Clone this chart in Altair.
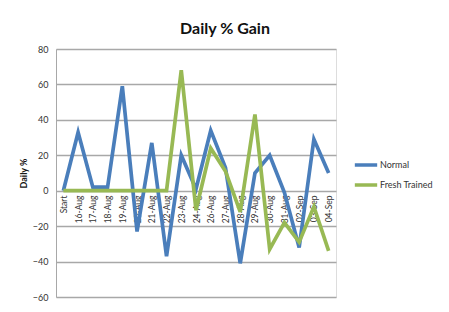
import altair as alt
import pandas as pd

dates = ["Start", "16-Aug", "17-Aug", "18-Aug", "19-Aug", "20-Aug", "21-Aug",
         "22-Aug", "23-Aug", "24-Aug", "26-Aug", "27-Aug", "28-Aug", "29-Aug",
         "30-Aug", "31-Aug", "02-Sep", "03-Sep", "04-Sep"]
normal = [0, 33, 2, 2, 59, -23, 27, -37, 20, 1, 34, 13, -41, 10, 20, -1, -32, 29, 10]
fresh = [0, 0, 0, 0, 0, 0, 0, 0, 68, -11, 24, 11, -12, 43, -33, -18, -29, -9, -34]
series = ["Normal", "Fresh Trained"]
colors = ["#4A7EBB", "#98B954"]

rows = []
for name, vals in zip(series, [normal, fresh]):
    for i, (d, v) in enumerate(zip(dates, vals)):
        rows.append({"date": d, "value": v, "series": name, "order": i})
df = pd.DataFrame(rows)

FONT = "Lato"
W, H = 280, 248

chart = alt.Chart(df).mark_line(strokeWidth=3.7, strokeJoin="miter").encode(
    x=alt.X("date:N", sort=dates, scale=alt.Scale(paddingInner=0, paddingOuter=0.5),
            axis=alt.Axis(title=None, labelAngle=-90, labelFontSize=8.5, labelColor="#333",
                          labelFont=FONT, ticks=False, domain=False, grid=False,
                          labelPadding=5, offset=-107, labelOverlap=False)),
    y=alt.Y("value:Q", scale=alt.Scale(domain=[-60, 80], nice=False),
            axis=alt.Axis(title="Daily %", values=list(range(-60, 81, 20)),
                          labelFontSize=9, labelColor="#333", labelFont=FONT,
                          labelPadding=8, ticks=False, domainColor="#a8a8a8",
                          gridColor="#a8a8a8", gridWidth=1.3,
                          titleFont=FONT, titleFontSize=9, titleFontWeight="bold",
                          titleColor="#111", titleX=-28, titleY=H / 2,
                          titleAngle=-90, titleBaseline="bottom")),
    color=alt.Color("series:N", sort=series,
                    scale=alt.Scale(domain=series, range=colors),
                    legend=alt.Legend(title=None, orient="none", legendX=297, legendY=103,
                                      symbolType="stroke", symbolStrokeWidth=3.5,
                                      symbolSize=500, labelFont=FONT, labelFontSize=9,
                                      labelColor="#333", rowPadding=-2, labelOffset=1)),
    detail="series:N",
    order="order:Q",
).properties(
    width=W, height=H,
    title=alt.TitleParams("Daily % Gain", font=FONT, fontSize=16, fontWeight="bold",
                          color="#111", dx=29, offset=8),
    autosize=alt.AutoSizeParams(type="none"),
    padding={"left": 56, "top": 49, "right": 113, "bottom": 15},
).configure_view(stroke=None).configure(background="white")

chart.save("out.html", embed_options={"renderer": "svg", "actions": False})
